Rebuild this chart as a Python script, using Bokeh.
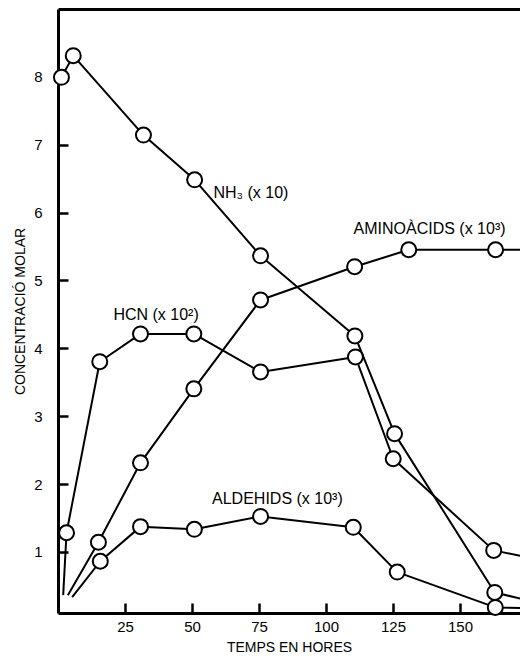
from bokeh.plotting import figure
from bokeh.models import LinearAxis, FixedTicker, Label, Range1d
from bokeh.embed import file_html
from bokeh.resources import INLINE

# ---- data ----
x_ticks = [25, 50, 75, 100, 125, 150]
y_ticks = [1, 2, 3, 4, 5, 6, 7, 8]

# NH3 (x 10)
nh3_t = [1.1, 5.5, 31.7, 50.8, 75.4, 110.6, 125.4, 162.8, 185.0]
nh3_y = [8.0, 8.32, 7.15, 6.49, 5.37, 4.19, 2.75, 0.41, 0.20]

# HCN (x 10^2) - first point is the line start without marker
hcn_t = [1.75, 3.0, 15.4, 30.6, 50.5, 75.4, 110.8, 124.9, 162.4, 185.0]
hcn_y = [0.37, 1.29, 3.81, 4.22, 4.22, 3.66, 3.88, 2.38, 1.03, 0.85]

# AMINOACIDS (x 10^3)
amino_t = [3.5, 14.9, 30.6, 50.5, 75.4, 110.5, 130.7, 163.1, 185.0]
amino_y = [0.37, 1.15, 2.32, 3.41, 4.72, 5.21, 5.46, 5.46, 5.46]

# ALDEHIDS (x 10^3)
ald_t = [5.1, 15.6, 30.6, 50.7, 75.4, 110.0, 126.4, 163.0, 185.0]
ald_y = [0.34, 0.87, 1.38, 1.34, 1.53, 1.37, 0.71, 0.19, 0.17]

FONT = "Liberation Sans"

p = figure(width=520, height=660, output_backend="svg", toolbar_location=None,
           title=None,
           x_range=Range1d(0, 172.4), y_range=Range1d(0.1, 9.0),
           min_border_left=58, min_border_right=0, min_border_top=9,
           min_border_bottom=47)
p.outline_line_color = None
p.grid.visible = False
p.background_fill_color = "white"
p.border_fill_color = "white"

for ax in (p.xaxis[0], p.yaxis[0]):
    ax.axis_line_width = 3
    ax.axis_line_color = "black"
    ax.major_tick_in = 10
    ax.major_tick_out = 0
    ax.major_tick_line_width = 2.5
    ax.major_tick_line_color = "black"
    ax.minor_tick_line_color = None
    ax.major_label_text_font = FONT
    ax.major_label_text_font_size = "15px"
    ax.major_label_text_color = "black"
    ax.axis_label_text_font = FONT
    ax.axis_label_text_font_style = "normal"
    ax.axis_label_text_color = "black"

p.xaxis[0].ticker = FixedTicker(ticks=x_ticks)
p.yaxis[0].ticker = FixedTicker(ticks=y_ticks)
p.xaxis[0].axis_label = "TEMPS EN HORES"
p.yaxis[0].axis_label = "CONCENTRACIÓ MOLAR"
p.xaxis[0].axis_label_text_font_size = "14px"
p.yaxis[0].axis_label_text_font_size = "14px"
p.xaxis[0].major_label_standoff = 8
p.xaxis[0].axis_label_standoff = 4
p.yaxis[0].major_label_standoff = 16
p.yaxis[0].axis_label_standoff = 3

top = LinearAxis(ticker=FixedTicker(ticks=[]), major_label_standoff=0,
                 major_tick_in=0, major_tick_out=0, minor_tick_in=0, minor_tick_out=0,
                 axis_line_width=3, axis_line_color="black")
p.add_layout(top, "above")

series = [(nh3_t, nh3_y, 0), (hcn_t, hcn_y, 1), (amino_t, amino_y, 1), (ald_t, ald_y, 1)]
for t, y, s in series:
    p.line(t, y, line_width=2, line_color="black")
for t, y, s in series:
    p.scatter(t[s:], y[s:], size=15, marker="circle", fill_color="white",
              line_color="black", line_width=2, level="overlay")

labels = [
    (57.8, 6.30, "NH\u2083 (x 10)"),
    (20.5, 4.50, "HCN (x 10\u00b2)"),
    (110.1, 5.77, "AMINOÀCIDS (x 10\u00b3)"),
    (57.3, 1.80, "ALDEHIDS (x 10\u00b3)"),
]
for lx, ly, txt in labels:
    p.add_layout(Label(x=lx, y=ly, text=txt, text_font=FONT, text_font_size="16px",
                       text_color="black", text_baseline="middle", text_align="left"))

open("out.html", "w").write(file_html(p, INLINE))
